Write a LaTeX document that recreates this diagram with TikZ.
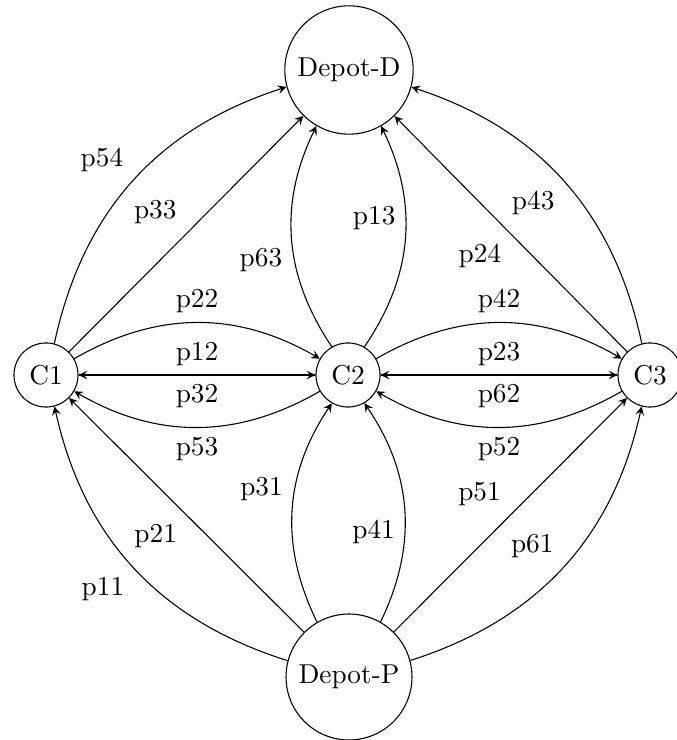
\documentclass[tikz,border=0pt]{standalone}
\usetikzlibrary{arrows}
\begin{document}
\begin{tikzpicture}[x=0.3663pt,y=0.3663pt,
  place/.style={draw,circle},
  flow/.style={->,>=stealth},
  lbl/.style={auto}]
\useasboundingbox (0,0) rectangle (676,740);
% depots and customers
\node[place] (d)  at (349,670) {Depot-D};
\node[place] (p)  at (349,63)  {Depot-P};
\node[place] (c1) at (46,365)  {C1};
\node[place] (c2) at (348,365) {C2};
\node[place] (c3) at (650,365) {C3};
% routes into Depot-D
\draw[flow] (c1) to[bend left]  node[lbl] {p54} (d);
\draw[flow] (c1) to             node[lbl] {p33} (d);
\draw[flow] (c2) to[bend left]  node[lbl] {p63} (d);
\draw[flow] (c2) to[bend right] node[lbl] {p13} (d);
\draw[flow] (c3) to             node[lbl] {p24} (d);
\draw[flow] (c3) to[bend right] node[lbl] {p43} (d);
% routes between customers
\draw[flow] (c1) to[bend left]  node[lbl] {p22} (c2);
\draw[flow] (c1) to             node[lbl] {p12} (c2);
\draw[flow] (c2) to             node[lbl] {p32} (c1);
\draw[flow] (c2) to[bend left]  node[lbl] {p53} (c1);
\draw[flow] (c2) to[bend left]  node[lbl] {p42} (c3);
\draw[flow] (c2) to             node[lbl] {p23} (c3);
\draw[flow] (c3) to             node[lbl] {p62} (c2);
\draw[flow] (c3) to[bend left]  node[lbl] {p52} (c2);
% routes out of Depot-P
\draw[flow] (p) to[bend left]  node[lbl] {p11} (c1);
\draw[flow] (p) to             node[lbl] {p21} (c1);
\draw[flow] (p) to[bend left]  node[lbl] {p31} (c2);
\draw[flow] (p) to[bend right] node[lbl] {p41} (c2);
\draw[flow] (p) to             node[lbl] {p51} (c3);
\draw[flow] (p) to[bend right] node[lbl] {p61} (c3);
\end{tikzpicture}
\end{document}
